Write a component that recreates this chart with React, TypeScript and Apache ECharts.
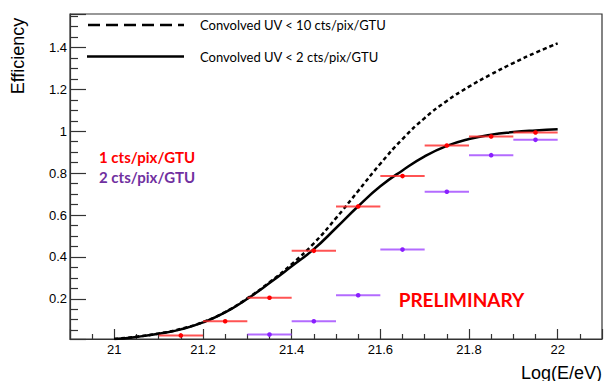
import React, { useEffect, useRef } from "react";
import * as echarts from "echarts";

// Energy grid for the simulated efficiency curves, Log(E/eV)
const energyGrid = [
  21.0, 21.05, 21.1, 21.15, 21.2, 21.25, 21.3, 21.35, 21.4, 21.45, 21.5,
  21.55, 21.6, 21.65, 21.7, 21.75, 21.8, 21.85, 21.9, 21.95, 22.0,
];
// Convolved UV < 2 cts/pix/GTU
const effConvolvedUV2 = [
  0.008, 0.018, 0.033, 0.054, 0.087, 0.135, 0.2, 0.275, 0.355, 0.437, 0.538,
  0.642, 0.737, 0.813, 0.88, 0.93, 0.963, 0.984, 0.996, 1.004, 1.01,
];
// Convolved UV < 10 cts/pix/GTU
const effConvolvedUV10 = [
  0.008, 0.019, 0.034, 0.056, 0.089, 0.137, 0.202, 0.279, 0.365, 0.465, 0.585,
  0.715, 0.845, 0.963, 1.063, 1.145, 1.213, 1.272, 1.326, 1.375, 1.42,
];

// Binned efficiencies (bin centres, half width 0.05)
const binCenters1 = [21.15, 21.25, 21.35, 21.45, 21.55, 21.65, 21.75, 21.85, 21.95];
const eff1cts = [0.025, 0.093, 0.205, 0.429, 0.641, 0.786, 0.932, 0.975, 0.994];
const binCenters2 = [21.35, 21.45, 21.55, 21.65, 21.75, 21.85, 21.95];
const eff2cts = [0.029, 0.093, 0.217, 0.435, 0.711, 0.886, 0.959];
const binHalfWidth = 0.05;

const legendLabels = ["Convolved UV < 10 cts/pix/GTU", "Convolved UV < 2 cts/pix/GTU"];
const seriesLabels = ["1 cts/pix/GTU", "2 cts/pix/GTU"];

const AXIS_COLOR = "#333";

function binnedSeries(
  name: string,
  xs: number[],
  ys: number[],
  barColor: string,
  dotColor: string
) {
  return {
    name,
    type: "custom",
    data: xs.map((x, i) => [x, ys[i]]),
    encode: { x: 0, y: 1 },
    z: 5,
    renderItem: (_params: any, api: any) => {
      const x = api.value(0);
      const y = api.value(1);
      const l = api.coord([x - binHalfWidth, y]);
      const r = api.coord([x + binHalfWidth, y]);
      const c = api.coord([x, y]);
      return {
        type: "group",
        children: [
          {
            type: "line",
            shape: { x1: l[0], y1: l[1], x2: r[0], y2: r[1] },
            style: { stroke: barColor, lineWidth: 2 },
          },
          {
            type: "circle",
            shape: { cx: c[0], cy: c[1], r: 2.3 },
            style: { fill: dotColor },
          },
        ],
      };
    },
  };
}

export default function App() {
  const ref = useRef<HTMLDivElement>(null);

  useEffect(() => {
    if (!ref.current) return;
    const chart = echarts.init(ref.current, undefined, { renderer: "svg" });

    const labelFmt = (v: number) => {
      const k = Math.round(v * 5);
      return Math.abs(v * 5 - k) < 1e-6 ? String(Math.round(v * 10) / 10) : "";
    };

    chart.setOption({
      animation: false,
      backgroundColor: "#fff",
      grid: {
        left: 70,
        right: 2,
        top: 14,
        bottom: 42,
        show: true,
        borderColor: AXIS_COLOR,
        borderWidth: 1.2,
        backgroundColor: "transparent",
      },
      xAxis: {
        type: "value",
        min: 20.9,
        max: 22.1,
        splitNumber: 6,
        minInterval: 0.2,
        maxInterval: 0.2,
        axisLine: { onZero: false, lineStyle: { color: AXIS_COLOR, width: 1.2 } },
        axisTick: { inside: true, length: 10, lineStyle: { color: AXIS_COLOR, width: 1.2 } },
        minorTick: { show: true, splitNumber: 4, length: 5, lineStyle: { color: AXIS_COLOR, width: 1.2 } },
        splitLine: { show: false },
        axisLabel: {
          formatter: labelFmt,
          showMinLabel: false,
          showMaxLabel: false,
          color: "#000",
          fontSize: 13,
          fontFamily: "Liberation Sans",
          margin: 4,
        },
      },
      yAxis: {
        type: "value",
        min: 0.008,
        max: 1.56,
        splitNumber: 8,
        minInterval: 0.2,
        maxInterval: 0.2,
        axisLine: { show: true, onZero: false, lineStyle: { color: AXIS_COLOR, width: 1.2 } },
        axisTick: { show: true, inside: true, length: 16, lineStyle: { color: AXIS_COLOR, width: 1.2 } },
        minorTick: { show: true, splitNumber: 4, length: 8, lineStyle: { color: AXIS_COLOR, width: 1.2 } },
        splitLine: { show: false },
        axisLabel: {
          formatter: labelFmt,
          showMinLabel: false,
          showMaxLabel: false,
          color: "#000",
          fontSize: 13,
          fontFamily: "Liberation Sans",
          margin: 3,
        },
      },
      series: [
        {
          name: legendLabels[0],
          type: "line",
          data: energyGrid.map((x, i) => [x, effConvolvedUV10[i]]),
          smooth: 0.5,
          showSymbol: false,
          lineStyle: { color: "#000", width: 2.5, type: [4, 3] },
          z: 3,
        },
        {
          name: legendLabels[1],
          type: "line",
          data: energyGrid.map((x, i) => [x, effConvolvedUV2[i]]),
          smooth: 0.5,
          showSymbol: false,
          lineStyle: { color: "#000", width: 2.5 },
          z: 4,
        },
        binnedSeries(seriesLabels[0], binCenters1, eff1cts, "rgba(255,40,40,0.8)", "#ff0000"),
        binnedSeries(seriesLabels[1], binCenters2, eff2cts, "rgba(160,70,255,0.8)", "#8a1fff"),
      ],
      graphic: [
        {
          type: "line",
          shape: { x1: 88, y1: 25, x2: 184, y2: 25 },
          style: { stroke: "#000", lineWidth: 2.5, lineDash: [12, 6] },
        },
        {
          type: "line",
          shape: { x1: 87, y1: 56.5, x2: 184, y2: 56.5 },
          style: { stroke: "#000", lineWidth: 2.5 },
        },
        {
          type: "text",
          x: 200,
          y: 25,
          style: {
            text: legendLabels[0],
            fill: "#000",
            font: "13px Lato",
            textVerticalAlign: "middle",
          },
        },
        {
          type: "text",
          x: 200,
          y: 56.5,
          style: {
            text: legendLabels[1],
            fill: "#000",
            font: "13px Lato",
            textVerticalAlign: "middle",
          },
        },
        {
          type: "text",
          x: 99,
          y: 157,
          style: {
            text: seriesLabels[0],
            fill: "#ff0000",
            font: "bold 15px Lato",
            textVerticalAlign: "middle",
          },
        },
        {
          type: "text",
          x: 99,
          y: 176.5,
          style: {
            text: seriesLabels[1],
            fill: "#7030a0",
            font: "bold 15px Lato",
            textVerticalAlign: "middle",
          },
        },
        {
          type: "text",
          x: 461.5,
          y: 299.5,
          style: {
            text: "PRELIMINARY",
            fill: "#ff0000",
            font: "bold 19px Lato",
            textAlign: "center",
            textVerticalAlign: "middle",
          },
        },
        {
          type: "text",
          x: 602,
          y: 372.5,
          style: {
            text: "Log(E/eV)",
            fill: "#000",
            font: "18px Liberation Sans",
            textAlign: "right",
            textVerticalAlign: "middle",
          },
        },
        {
          type: "text",
          x: 18,
          y: 56,
          rotation: Math.PI / 2,
          style: {
            text: "Efficiency",
            fill: "#000",
            font: "18px Liberation Sans",
            textAlign: "center",
            textVerticalAlign: "middle",
          },
        },
      ],
    });

    return () => chart.dispose();
  }, []);

  return (
    <div
      ref={ref}
      style={{ position: "fixed", left: 0, top: 0, width: 604, height: 381 }}
    />
  );
}
